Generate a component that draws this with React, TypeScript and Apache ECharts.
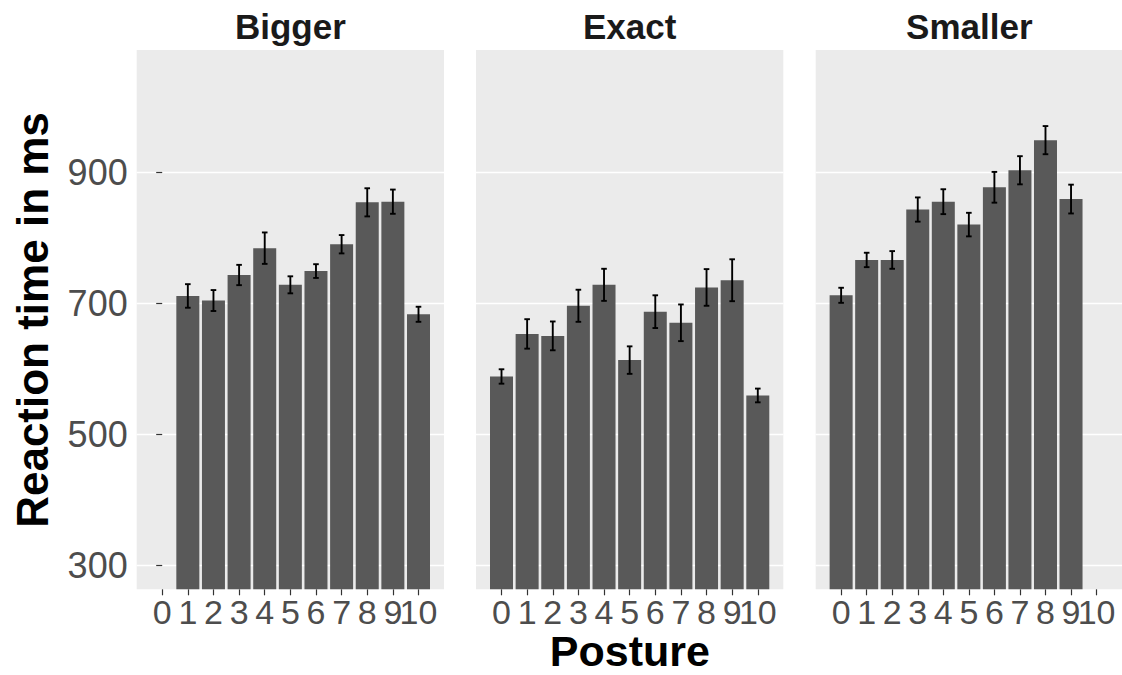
import React, { useEffect, useRef } from "react";
import * as echarts from "echarts";

const facetNames = ["Bigger", "Exact", "Smaller"];

const biggerPosture = [1, 2, 3, 4, 5, 6, 7, 8, 9, 10];
const biggerMean = [711, 704, 743, 784, 728, 749, 790, 854, 855, 683];
const biggerSe = [18, 16, 15.5, 24, 13, 10.5, 14, 21.5, 18.5, 11.5];

const exactPosture = [0, 1, 2, 3, 4, 5, 6, 7, 8, 9, 10];
const exactMean = [588, 653, 650, 696, 728, 613, 687, 670, 724, 735, 559];
const exactSe = [11, 22.5, 22, 24.5, 24.5, 21, 25, 28, 28, 32, 10.5];

const smallerPosture = [0, 1, 2, 3, 4, 5, 6, 7, 8, 9];
const smallerMean = [712, 766, 766, 843, 855, 820, 877, 903, 949, 859];
const smallerSe = [11.5, 11, 13.5, 18.5, 19, 18, 23.5, 21.5, 21.5, 22];

const xTickValues = [0, 1, 2, 3, 4, 5, 6, 7, 8, 9, 10];
// labels split over two overlaid axes so that the touching "9" and "10" both stay visible
const xLabelsMain = [0, 1, 2, 3, 4, 5, 6, 7, 8, 9];
const xLabelsLast = [10];
const yTickValues = [300, 500, 700, 900];

const FONT = "'Liberation Sans', Arial, Helvetica, sans-serif";
const PANEL_LEFT = [136.7, 476, 815.7];
const PANEL_W = 307.3;
const PANEL_TOP = 50;
const PANEL_BOTTOM = 675 - 589.3;
const X_MIN = -0.995;
const X_MAX = 10.995;
const Y_MIN = 262.9;
const Y_MAX = 1086.7;

export default function App() {
  const ref = useRef<HTMLDivElement | null>(null);

  useEffect(() => {
    document.body.style.margin = "0";
    if (!ref.current) return;
    const chart = echarts.init(ref.current, undefined, { renderer: "svg" });

    const facets = [
      { x: biggerPosture, m: biggerMean, s: biggerSe },
      { x: exactPosture, m: exactMean, s: exactSe },
      { x: smallerPosture, m: smallerMean, s: smallerSe },
    ];

    const grids = PANEL_LEFT.map((l) => ({
      left: l,
      width: PANEL_W,
      top: PANEL_TOP,
      bottom: PANEL_BOTTOM,
      show: true,
      backgroundColor: "#EBEBEB",
      borderWidth: 0,
      containLabel: false,
    }));

    const xLabelStyle = { fontSize: 34, fontFamily: FONT, color: "#4D4D4D" };
    const yLabelStyle = { fontSize: 36, fontFamily: FONT, color: "#4D4D4D" };

    const xAxes: any[] = PANEL_LEFT.map((_, i) => ({
      type: "value",
      gridIndex: i,
      position: "bottom",
      min: X_MIN,
      max: X_MAX,
      axisLine: { show: false },
      splitLine: { show: false },
      axisTick: {
        show: true,
        customValues: xTickValues,
        length: 6,
        lineStyle: { color: "#333333", width: 1.2 },
      },
      axisLabel: {
        show: true,
        customValues: xLabelsMain,
        showMinLabel: true,
        showMaxLabel: true,
        margin: 6,
        ...xLabelStyle,
      },
    }));
    PANEL_LEFT.forEach((_, i) => {
      xAxes.push({
        type: "value",
        gridIndex: i,
        position: "bottom",
        offset: 0,
        min: X_MIN,
        max: X_MAX,
        axisLine: { show: false },
        splitLine: { show: false },
        axisTick: { show: false, customValues: xLabelsLast },
        axisLabel: {
          show: true,
          customValues: xLabelsLast,
          showMinLabel: true,
          showMaxLabel: true,
          margin: 6,
          ...xLabelStyle,
        },
      });
    });

    const yAxes = PANEL_LEFT.map((_, i) => ({
      type: "value",
      gridIndex: i,
      min: Y_MIN,
      max: Y_MAX,
      axisLine: { show: false },
      splitLine: { show: true, lineStyle: { color: "#FFFFFF", width: 1.4 } },
      axisTick: {
        show: i === 0,
        customValues: yTickValues,
        length: 6,
        lineStyle: { color: "#333333", width: 1.2 },
      },
      axisLabel: {
        show: i === 0,
        customValues: yTickValues,
        showMinLabel: true,
        showMaxLabel: true,
        margin: 9,
        ...yLabelStyle,
      },
    }));

    const series: any[] = [];
    facets.forEach((f, i) => {
      series.push({
        type: "bar",
        xAxisIndex: i,
        yAxisIndex: i,
        barWidth: 23,
        data: f.x.map((x, j) => [x, f.m[j]]),
        itemStyle: { color: "#595959" },
        clip: true,
        silent: true,
      });
      series.push({
        type: "custom",
        xAxisIndex: i,
        yAxisIndex: i,
        data: f.x.map((x, j) => [x, f.m[j], f.s[j]]),
        renderItem: (params: any, api: any) => {
          const x = api.value(0);
          const m = api.value(1);
          const s = api.value(2);
          const top = api.coord([x, m + s]);
          const bot = api.coord([x, m - s]);
          const hw = 2.8;
          const st = { stroke: "#000000", lineWidth: 1.9 };
          return {
            type: "group",
            children: [
              { type: "line", shape: { x1: top[0], y1: top[1], x2: bot[0], y2: bot[1] }, style: st },
              { type: "line", shape: { x1: top[0] - hw, y1: top[1], x2: top[0] + hw, y2: top[1] }, style: st },
              { type: "line", shape: { x1: bot[0] - hw, y1: bot[1], x2: bot[0] + hw, y2: bot[1] }, style: st },
            ],
          };
        },
        z: 5,
        silent: true,
      });
    });

    const graphic: any[] = facetNames.map((name, i) => ({
      type: "text",
      x: PANEL_LEFT[i] + PANEL_W / 2,
      y: 26,
      style: {
        text: name,
        font: `bold 35px ${FONT}`,
        fill: "#1A1A1A",
        textAlign: "center",
        textVerticalAlign: "middle",
      },
    }));
    graphic.push({
      type: "text",
      x: 32,
      y: 320,
      rotation: Math.PI / 2,
      style: {
        text: "Reaction time in ms",
        font: `bold 44px ${FONT}`,
        fill: "#000000",
        textAlign: "center",
        textVerticalAlign: "middle",
      },
    });
    graphic.push({
      type: "text",
      x: (PANEL_LEFT[0] + PANEL_LEFT[2] + PANEL_W) / 2,
      y: 651,
      style: {
        text: "Posture",
        font: `bold 43px ${FONT}`,
        fill: "#000000",
        textAlign: "center",
        textVerticalAlign: "middle",
      },
    });

    chart.setOption({
      animation: false,
      backgroundColor: "#FFFFFF",
      grid: grids,
      xAxis: xAxes,
      yAxis: yAxes,
      series,
      graphic,
    });

    return () => chart.dispose();
  }, []);

  return <div ref={ref} style={{ width: 1122, height: 675 }} />;
}
